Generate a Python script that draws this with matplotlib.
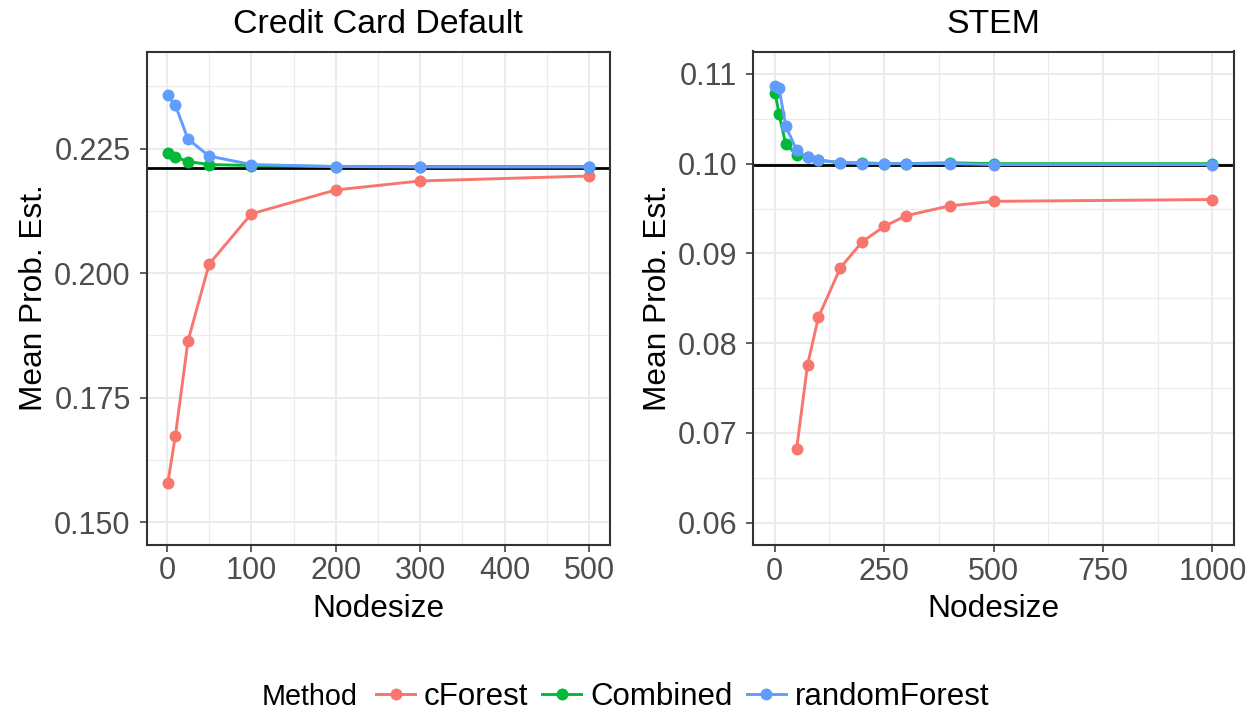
import matplotlib
matplotlib.use("Agg")
import matplotlib.pyplot as plt
from matplotlib.lines import Line2D
from matplotlib.ticker import MultipleLocator

plt.rcParams["font.family"] = ["Liberation Sans", "DejaVu Sans"]

# ---- Credit Card Default ----
cc_nodes = [1, 10, 25, 50, 100, 200, 300, 500]
cc_cforest = [0.1578, 0.1673, 0.1864, 0.2018, 0.2119, 0.2167, 0.2185, 0.2195]
cc_combined = [0.2241, 0.2233, 0.2224, 0.2218, 0.2216, 0.2214, 0.2214, 0.2214]
cc_randomforest = [0.2357, 0.2337, 0.2269, 0.2235, 0.2218, 0.2214, 0.2213, 0.2213]
cc_truth = 0.2212

# ---- STEM ----
stem_nodes = [1, 10, 25, 50, 75, 100, 150, 200, 250, 300, 400, 500, 1000]
stem_cforest_nodes = [50, 75, 100, 150, 200, 250, 300, 400, 500, 1000]
stem_cforest = [0.0682, 0.0776, 0.0829, 0.0884, 0.0913, 0.0930, 0.0942, 0.0953, 0.0958, 0.0960]
stem_combined = [0.1079, 0.1055, 0.1022, 0.1010, 0.1007, 0.1004, 0.1001, 0.1001,
                 0.1000, 0.1000, 0.1001, 0.1000, 0.1000]
stem_randomforest = [0.1086, 0.1084, 0.1042, 0.1015, 0.1007, 0.1004, 0.1001, 0.1000,
                     0.1000, 0.1000, 0.1000, 0.0999, 0.0999]
stem_truth = 0.0998

methods = ["cForest", "Combined", "randomForest"]
colors = {"cForest": "#F8766D", "Combined": "#00BA38", "randomForest": "#619CFF"}

W, H = 1259, 715
fig = plt.figure(figsize=(W / 100, H / 100), dpi=100)

def px_box(x0, x1, y0, y1):
    return [x0 / W, 1 - y1 / H, (x1 - x0) / W, (y1 - y0) / H]

ax1 = fig.add_axes(px_box(146.7, 610.0, 51.5, 544.5))
ax2 = fig.add_axes(px_box(753.3, 1234.3, 51.5, 545.0))

LW = 2.1
MS = 8.6

def style_panel(ax, xlim, ylim, xmajor, ymajor, yfmt):
    ax.set_xlim(*xlim)
    ax.set_ylim(*ylim)
    ax.xaxis.set_major_locator(MultipleLocator(xmajor))
    ax.xaxis.set_minor_locator(MultipleLocator(xmajor / 2))
    ax.yaxis.set_major_locator(MultipleLocator(ymajor))
    ax.yaxis.set_minor_locator(MultipleLocator(ymajor / 2))
    ax.yaxis.set_major_formatter(plt.FuncFormatter(lambda v, p: yfmt.format(v)))
    ax.grid(which="major", color="#EBEBEB", linewidth=1.5)
    ax.grid(which="minor", color="#EBEBEB", linewidth=0.9)
    ax.set_axisbelow(True)
    for s in ax.spines.values():
        s.set_color("#333333")
        s.set_linewidth(1.5)
    ax.tick_params(which="major", length=5, width=1.1, color="#333333",
                   labelsize=22, labelcolor="#4D4D4D")
    ax.tick_params(axis="x", which="major", pad=3.5)
    ax.tick_params(axis="y", which="major", pad=6.5)
    ax.tick_params(which="minor", length=0)

def draw_series(ax, nodes_map, values_map, truth):
    ax.axhline(truth, color="black", linewidth=2.0, zorder=2)
    for i, m in enumerate(methods):
        ax.plot(nodes_map[m], values_map[m], color=colors[m], linewidth=LW,
                marker="o", markersize=MS, markeredgewidth=0, zorder=3 + i)

draw_series(ax1,
            {"cForest": cc_nodes, "Combined": cc_nodes, "randomForest": cc_nodes},
            {"cForest": cc_cforest, "Combined": cc_combined, "randomForest": cc_randomforest},
            cc_truth)
style_panel(ax1, (1 - 0.05 * 499, 500 + 0.05 * 499), (0.1455, 0.2445), 100, 0.025, "{:.3f}")

draw_series(ax2,
            {"cForest": stem_cforest_nodes, "Combined": stem_nodes, "randomForest": stem_nodes},
            {"cForest": stem_cforest, "Combined": stem_combined, "randomForest": stem_randomforest},
            stem_truth)
style_panel(ax2, (1 - 0.05 * 999, 1000 + 0.05 * 999), (0.0575, 0.1125), 250, 0.01, "{:.2f}")

# titles and axis labels
for ax, title, ylab_x in [(ax1, "Credit Card Default", 41.7), (ax2, "STEM", 666.0)]:
    pos = ax.get_position()
    cx = (pos.x0 + pos.x1) / 2
    fig.text(cx, 1 - 33.3 / H, title, ha="center", va="baseline", fontsize=24.4, color="black")
    fig.text(cx, 1 - 617 / H, "Nodesize", ha="center", va="baseline", fontsize=22.8, color="black")
    fig.text(ylab_x / W, 1 - 298 / H, "Mean Prob. Est.", rotation=90, rotation_mode="anchor",
             ha="center", va="baseline", fontsize=22.8, color="black")

# legend along the bottom
fig.text(262 / W, 1 - 697 / H, "Method", ha="left", va="center", fontsize=20.7, color="black")
handles = [Line2D([0], [0], color=colors[m], linewidth=LW, marker="o", markersize=MS,
                  markeredgewidth=0) for m in methods]
fig.legend(handles, methods, loc="center left", bbox_to_anchor=(376 / W, 1 - 697 / H),
           ncol=3, frameon=False, fontsize=22.5, handlelength=1.25, handletextpad=0.28,
           columnspacing=0.45, borderpad=0, borderaxespad=0)

fig.savefig("out.png", dpi=100, facecolor="white")
